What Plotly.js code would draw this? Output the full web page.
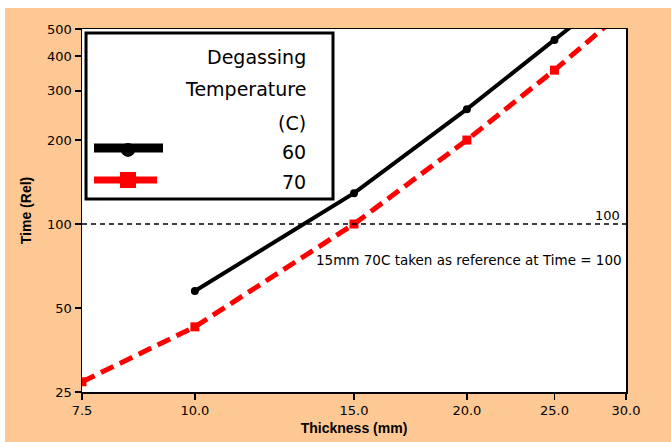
<!DOCTYPE html>
<html>
<head>
<meta charset="utf-8">
<script src="https://cdn.plot.ly/plotly-3.0.1.min.js"></script>
<style>
html,body{margin:0;padding:0;background:#ffffff;}
#chart{position:absolute;left:5px;top:8px;width:666px;height:434px;}
</style>
</head>
<body>
<div id="chart"></div>
<script>
// ---- data ----
const thickness60 = [10, 15, 20, 25, 30];
const time60 = [57.5, 129, 258, 457, 730];
const thickness70 = [7.5, 10, 15, 20, 25, 30];
const time70 = [27.2, 42.8, 100, 200, 356, 590];
const seriesNames = ["60", "70"];
const legendTitle = ["Degassing", "Temperature", "(C)"];
const xTickVals = [7.5, 10, 15, 20, 25, 30];
const xTickText = ["7.5", "10.0", "15.0", "20.0", "25.0", "30.0"];
const yTickVals = [25, 50, 100, 200, 300, 400, 500];
const yTickText = ["25", "50", "100", "200", "300", "400", "500"];
const refValue = 100;
const refNote = "15mm 70C taken as reference at Time = 100";

const FONT = "DejaVu Sans, Verdana, sans-serif";

const traces = [
  {
    x: thickness60, y: time60, name: seriesNames[0], type: "scatter", mode: "lines+markers",
    line: {color: "#000000", width: 4},
    marker: {color: "#000000", symbol: "circle", size: 8},
    showlegend: false
  },
  {
    x: thickness70, y: time70, name: seriesNames[1], type: "scatter", mode: "lines+markers",
    line: {color: "#ff0000", width: 5, dash: "14px,7px"},
    marker: {color: "#ff0000", symbol: "square", size: 9},
    showlegend: false
  }
];

const legendTextY = [0.9229, 0.8347, 0.741];
const annotations = [];
legendTitle.forEach((t, i) => {
  annotations.push({text: t, xref: "paper", yref: "paper", x: 0.4154, y: legendTextY[i],
    xanchor: "right", yanchor: "middle", showarrow: false,
    font: {family: FONT, size: 19, color: "#000"}});
});
const entryY = [0.661, 0.5785];
seriesNames.forEach((t, i) => {
  annotations.push({text: t, xref: "paper", yref: "paper", x: 0.4154, y: entryY[i],
    xanchor: "right", yanchor: "middle", showarrow: false,
    font: {family: FONT, size: 19, color: "#000"}});
});
annotations.push({text: String(refValue), xref: "paper", yref: "y", x: 1, y: Math.log10(refValue),
  xanchor: "right", yanchor: "bottom", xshift: -4, yshift: -1, showarrow: false,
  font: {family: FONT, size: 13, color: "#000"}});
annotations.push({text: refNote, xref: "paper", yref: "paper", x: 1, y: 0.364,
  xanchor: "right", yanchor: "middle", xshift: -2, showarrow: false,
  font: {family: FONT, size: 13.5, color: "#000"}});

const shapes = [
  // reference line
  {type: "line", xref: "paper", yref: "y", x0: 0, x1: 1, y0: refValue, y1: refValue,
    line: {color: "#000", width: 1.3, dash: "5px,4px"}},
  // legend box
  {type: "rect", xref: "paper", yref: "paper", x0: 0.0074, x1: 0.4614, y0: 0.5317, y1: 0.989,
    line: {color: "#000", width: 3}, fillcolor: "#ffffff", layer: "above"},
  // legend samples
  {type: "line", xref: "paper", yref: "paper", x0: 0.0221, x1: 0.1489, y0: 0.6722, y1: 0.6722,
    line: {color: "#000", width: 9}, layer: "above"},
  {type: "circle", xref: "paper", yref: "paper", xsizemode: "pixel", ysizemode: "pixel",
    xanchor: 0.0846, yanchor: 0.667, x0: -7, x1: 7, y0: -7, y1: 7,
    fillcolor: "#000", line: {color: "#000", width: 0}, layer: "above"},
  {type: "line", xref: "paper", yref: "paper", x0: 0.0221, x1: 0.1379, y0: 0.584, y1: 0.584,
    line: {color: "#ff0000", width: 7}, layer: "above"},
  {type: "rect", xref: "paper", yref: "paper", xsizemode: "pixel", ysizemode: "pixel",
    xanchor: 0.0846, yanchor: 0.584, x0: -8, x1: 8, y0: -8, y1: 8,
    fillcolor: "#ff0000", line: {color: "#ff0000", width: 0}, layer: "above"}
];

const layout = {
  width: 666, height: 434,
  paper_bgcolor: "#fdc894",
  plot_bgcolor: "#ffffff",
  margin: {l: 77, r: 45, t: 21, b: 50},
  showlegend: false,
  font: {family: FONT, size: 13, color: "#000"},
  xaxis: {
    type: "log", range: [Math.log10(7.5), Math.log10(30)],
    tickvals: xTickVals, ticktext: xTickText,
    showgrid: false, zeroline: false, showline: true, mirror: true,
    linecolor: "#000", linewidth: 1.5, ticks: "outside", ticklen: 6, tickwidth: 1.5, tickcolor: "#000",
    tickfont: {family: FONT, size: 13, color: "#000"},
    title: {text: "Thickness (mm)", standoff: 6,
      font: {family: "Liberation Sans, Arial, sans-serif", size: 14, color: "#000", weight: "bold"}}
  },
  yaxis: {
    type: "log", range: [Math.log10(25), Math.log10(500)],
    tickvals: yTickVals, ticktext: yTickText,
    showgrid: false, zeroline: false, showline: true, mirror: true,
    linecolor: "#000", linewidth: 1.5, ticks: "outside", ticklen: 6, tickwidth: 1.5, tickcolor: "#000",
    tickfont: {family: FONT, size: 13, color: "#000"},
    title: {text: "Time (Rel)", standoff: 12,
      font: {family: "Liberation Sans, Arial, sans-serif", size: 14, color: "#000", weight: "bold"}}
  },
  annotations: annotations,
  shapes: shapes
};

Plotly.newPlot("chart", traces, layout, {displayModeBar: false, staticPlot: true});
</script>
</body>
</html>
